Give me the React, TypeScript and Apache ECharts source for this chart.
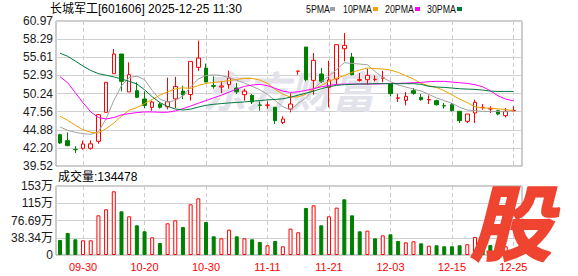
import React, { useEffect, useRef } from 'react';
import * as echarts from 'echarts';

const TITLE = '长城军工[601606] 2025-12-25 11:30';
const LAST_VOLUME = '134478';

const DATES = [
  '09-25', '09-26', '09-29', '09-30', '10-09', '10-10', '10-13', '10-14', '10-15', '10-16',
  '10-17', '10-20', '10-21', '10-22', '10-23', '10-24', '10-27', '10-28', '10-29', '10-30',
  '10-31', '11-03', '11-04', '11-05', '11-06', '11-07', '11-10', '11-11', '11-12', '11-13',
  '11-14', '11-17', '11-18', '11-19', '11-20', '11-21', '11-24', '11-25', '11-26', '11-27',
  '11-28', '12-01', '12-02', '12-03', '12-04', '12-05', '12-08', '12-09', '12-10', '12-11',
  '12-12', '12-15', '12-16', '12-17', '12-18', '12-19', '12-22', '12-23', '12-24', '12-25',
];

const OPEN = [
  44.15, 43.27, 41.97, 42.14, 42.14, 43.17, 47.46, 53.18, 56.09, 50.47,
  50.66, 49.43, 48.2, 48.67, 48.3, 49.45, 50.6, 50.1, 54.11, 54.01,
  51.42, 51.2, 51.55, 51.06, 50.07, 49.97, 48.55, 48.5, 48.2, 45.93,
  47.95, 53.54, 57.12, 52.19, 53.13, 51.16, 52.39, 56.87, 55.64, 52.19,
  52.29, 52.29, 52.5, 51.7, 49.55, 49.23, 50.66, 49.68, 49.3, 49.18,
  48.45, 48.59, 47.61, 46.13, 47.36, 48.15, 47.95, 47.7, 46.97, 47.7,
];
const CLOSE = [
  42.92, 42.53, 41.93, 42.77, 42.8, 47.11, 51.9, 56.09, 52.04, 53.03,
  49.68, 48.49, 48.99, 48.2, 49.04, 51.3, 50.05, 55.0, 55.49, 51.94,
  51.3, 51.35, 52.54, 50.5, 50.6, 48.99, 48.5, 48.55, 46.23, 46.47,
  48.69, 53.56, 52.29, 55.15, 52.04, 52.24, 57.47, 57.37, 53.03, 52.3,
  52.93, 52.34, 52.55, 50.22, 49.6, 49.82, 50.27, 49.33, 49.35, 48.59,
  48.4, 47.7, 46.23, 47.21, 48.94, 48.2, 48.0, 47.21, 47.61, 47.75,
];
const LOW = [
  42.8, 42.45, 41.45, 41.94, 41.94, 42.82, 47.46, 53.18, 50.56, 50.47,
  49.58, 48.1, 47.7, 48.0, 47.9, 48.1, 49.4, 49.2, 53.62, 51.94,
  50.96, 50.3, 50.96, 50.17, 49.18, 48.69, 47.7, 48.0, 45.73, 45.73,
  47.46, 53.03, 52.04, 50.07, 51.8, 48.2, 51.55, 55.0, 52.93, 52.0,
  51.55, 52.04, 51.9, 49.8, 48.99, 48.49, 50.07, 49.18, 48.69, 48.44,
  48.0, 47.6, 45.88, 45.88, 45.88, 47.85, 47.36, 47.02, 46.72, 47.6,
];
const HIGH = [
  44.3, 44.5, 42.45, 43.27, 43.3, 47.21, 51.9, 56.83, 56.09, 54.85,
  51.9, 50.56, 49.18, 48.94, 52.58, 52.7, 51.4, 55.0, 58.06, 54.66,
  52.78, 52.04, 53.62, 51.8, 50.96, 50.17, 49.08, 49.08, 48.2, 46.87,
  50.27, 53.56, 57.12, 56.24, 54.01, 55.1, 57.47, 59.19, 56.24, 53.27,
  53.92, 52.93, 53.6, 51.7, 50.17, 50.47, 51.06, 50.17, 49.97, 49.33,
  48.84, 48.84, 47.61, 47.21, 49.33, 48.69, 48.35, 47.85, 48.1, 48.35,
];

// volume, in 万 (10k)
const VOLUME = [
  33.4, 49.0, 34.9, 32.7, 32.7, 88.2, 101.6, 141.6, 97.1, 86.0,
  66.0, 52.7, 39.3, 26.7, 70.5, 77.1, 62.3, 112.7, 126.0, 73.4,
  41.6, 37.1, 56.4, 41.6, 37.1, 34.9, 29.0, 21.6, 31.2, 19.3,
  58.6, 50.5, 104.5, 110.4, 66.0, 86.0, 105.3, 123.8, 88.2, 52.7,
  54.1, 37.1, 43.7, 46.0, 31.2, 28.2, 30.5, 26.0, 20.8, 21.6,
  19.3, 19.3, 21.6, 24.0, 40.0, 23.8, 22.0, 22.0, 19.3, 13.45,
];

const MA5 = [
  45.29, 44.8, 44.5, 44.3, 44.2, 44.6, 46.5, 49.2, 51.4, 52.6,
  52.8, 52.3, 50.7, 49.4, 49.0, 49.2, 49.9, 51.2, 52.4, 52.9,
  53.0, 52.9, 52.6, 52.2, 51.8, 51.3, 50.8, 50.1, 49.2, 48.3,
  47.8, 48.8, 49.6, 50.9, 52.0, 52.8, 53.8, 54.8, 54.7, 54.6,
  54.5, 53.5, 52.6, 52.0, 51.5, 51.2, 50.9, 50.6, 50.1, 49.6,
  49.2, 48.8, 48.2, 47.8, 47.7, 47.6, 47.6, 47.6, 47.6, 47.7,
];
const MA10 = [
  46.88, 46.28, 45.54, 44.89, 44.5, 44.4, 45.04, 45.88, 46.88, 47.77,
  48.17, 48.76, 49.36, 50.0, 50.5, 50.94, 51.09, 50.99, 51.44, 51.74,
  51.89, 51.99, 52.14, 52.33, 52.48, 52.48, 52.23, 51.74, 50.85, 50.15,
  49.7, 49.75, 50.15, 50.89, 51.44, 52.03, 52.53, 52.88, 53.37, 53.72,
  54.02, 53.92, 53.87, 53.72, 53.37, 52.88, 52.38, 51.74, 51.39, 51.14,
  50.65, 50.05, 49.41, 48.91, 48.27, 48.12, 48.07, 47.97, 47.87, 47.72,
];
const MA20 = [
  52.73, 51.84, 50.35, 48.86, 47.52, 46.68, 46.48, 46.68, 47.08, 47.27,
  47.42, 47.52, 47.52, 47.47, 47.47, 47.67, 48.0, 48.4, 48.8, 49.2,
  49.6, 50.0, 50.45, 50.9, 51.3, 51.5, 51.6, 51.4, 51.0, 50.6,
  50.4, 50.5, 50.7, 50.95, 51.24, 51.44, 51.59, 51.64, 51.64, 51.64,
  51.64, 51.64, 51.69, 51.74, 51.74, 51.79, 51.84, 51.89, 51.99, 52.04,
  52.04, 51.94, 51.84, 51.74, 51.54, 51.24, 50.65, 49.9, 49.41, 49.16,
];
const MA30 = [
  56.2, 55.75, 55.03, 54.3, 53.65, 53.18, 52.95, 52.7, 52.4, 52.05,
  51.65, 50.8, 49.76, 48.9, 48.33, 47.96, 47.8, 47.93, 48.24, 48.5,
  48.65, 48.75, 48.85, 48.92, 49.0, 49.1, 49.2, 49.3, 49.36, 49.46,
  49.7, 50.0, 50.3, 50.6, 50.95, 51.25, 51.45, 51.55, 51.6, 51.65,
  51.65, 51.7, 51.7, 51.7, 51.7, 51.7, 51.7, 51.6, 51.3, 51.2,
  51.15, 51.05, 50.95, 50.9, 50.85, 50.75, 50.6, 50.55, 50.55, 50.55,
];

const PRICE_TICKS = ['39.52', '42.20', '44.88', '47.56', '50.24', '52.93', '55.61', '58.29', '60.97'];
const VOL_TICKS = ['0', '38.34万', '76.69万', '115万', '153万'];
const PRICE_MIN = 39.52;
const PRICE_MAX = 60.97;
const VOL_MAX = 153.37;

const MA_NAMES = ['5PMA', '10PMA', '20PMA', '30PMA'];

const RED = '#ff0000';
const GREEN = '#008000';
const MA_COLORS = ['#a0a0a0', '#f0a000', '#ff00ff', '#007a3d'];
const GRID_LINE = '#d0d0d0';
const BORDER = '#9a9a9a';

const labelEvery = (index: number) => (index - 3) % 8 === 0;

export default function App() {
  const ref = useRef<HTMLDivElement>(null);

  useEffect(() => {
    if (!ref.current) return;
    const chart = echarts.init(ref.current, undefined, { renderer: 'svg' });

    const dataLeft = 60;
    const dataWidth = 453.4;

    const candleData = OPEN.map((o, i) => [o, CLOSE[i], LOW[i], HIGH[i]]);
    const volData = VOLUME.map((v, i) => {
      const up = i === 0 ? CLOSE[0] >= OPEN[0] : CLOSE[i] >= CLOSE[i - 1];
      return {
        value: v,
        itemStyle: up
          ? { color: '#ffffff', borderColor: RED, borderWidth: 1 }
          : { color: GREEN, borderColor: GREEN, borderWidth: 1 },
      };
    });

    const maSeries = [MA5, MA10, MA20, MA30].map((arr, k) => ({
      type: 'line',
      name: MA_NAMES[k],
      xAxisIndex: 1,
      yAxisIndex: 1,
      data: arr,
      showSymbol: false,
      symbol: 'none',
      silent: true,
      z: 3,
      lineStyle: { width: 1, color: MA_COLORS[k] },
    }));

    const legendX = [306, 343, 385, 427];
    const squareX = [330, 373, 415, 457];
    const legendEls: any[] = [];
    MA_NAMES.forEach((n, k) => {
      legendEls.push({
        type: 'text',
        x: legendX[k],
        y: 9.5,
        scaleX: 0.8,
        style: {
          text: n,
          fill: '#111',
          fontSize: 11,
          fontFamily: 'Liberation Sans',
          verticalAlign: 'middle',
          align: 'left',
        },
      });
      legendEls.push({
        type: 'rect',
        shape: { x: squareX[k], y: 7, width: 5, height: 4 },
        style: { fill: MA_COLORS[k] },
      });
    });

    const option: any = {
      animation: false,
      backgroundColor: '#ffffff',
      grid: [
        { left: 56, top: 21, width: 466, height: 145, show: true, borderColor: BORDER, borderWidth: 1 },
        { left: dataLeft, top: 21, width: dataWidth, height: 145 },
        { left: 56, top: 186, width: 466, height: 69, show: true, borderColor: BORDER, borderWidth: 1 },
        { left: dataLeft, top: 186, width: dataWidth, height: 69 },
      ],
      xAxis: [
        { gridIndex: 0, type: 'value', min: 0, max: 1, show: false },
        {
          gridIndex: 1,
          type: 'category',
          data: DATES,
          boundaryGap: false,
          axisLine: { show: false },
          axisTick: { show: false },
          axisLabel: { show: false },
          splitLine: { show: true, interval: labelEvery, lineStyle: { color: '#cccccc', type: [4, 3], width: 1 } },
        },
        { gridIndex: 2, type: 'value', min: 0, max: 1, show: false },
        {
          gridIndex: 3,
          type: 'category',
          data: DATES,
          boundaryGap: false,
          axisLine: { show: false },
          axisTick: { show: false },
          axisLabel: {
            show: true,
            interval: labelEvery,
            color: RED,
            fontSize: 11,
            fontFamily: 'Liberation Sans',
            margin: 6,
          },
          splitLine: { show: true, interval: labelEvery, lineStyle: { color: '#cccccc', type: [4, 3], width: 1 } },
        },
      ],
      yAxis: [
        {
          gridIndex: 0,
          type: 'value',
          min: 0,
          max: 8,
          interval: 1,
          axisLine: { show: false },
          axisTick: { show: false },
          axisLabel: {
            formatter: (v: number) => PRICE_TICKS[Math.round(v)],
            color: '#1a1a1a',
            fontSize: 12,
            fontFamily: 'Liberation Sans',
            margin: 3,
          },
          splitLine: { show: true, lineStyle: { color: GRID_LINE, width: 1 } },
        },
        { gridIndex: 1, type: 'value', min: PRICE_MIN, max: PRICE_MAX, show: false, splitLine: { show: false } },
        {
          gridIndex: 2,
          type: 'value',
          min: 0,
          max: 4,
          interval: 1,
          axisLine: { show: false },
          axisTick: { show: false },
          axisLabel: {
            formatter: (v: number) => VOL_TICKS[Math.round(v)],
            color: '#1a1a1a',
            fontSize: 12,
            fontFamily: "'Liberation Sans', 'Noto Sans CJK SC'",
            margin: 3,
          },
          splitLine: { show: true, lineStyle: { color: GRID_LINE, width: 1 } },
        },
        { gridIndex: 3, type: 'value', min: 0, max: VOL_MAX, show: false, splitLine: { show: false } },
      ],
      series: [
        {
          type: 'candlestick',
          xAxisIndex: 1,
          yAxisIndex: 1,
          data: candleData,
          barWidth: 4,
          clip: false,
          z: 2,
          itemStyle: {
            color: '#ffffff',
            color0: GREEN,
            borderColor: RED,
            borderColor0: GREEN,
            borderWidth: 1,
          },
        },
        ...maSeries,
        {
          type: 'bar',
          xAxisIndex: 3,
          yAxisIndex: 3,
          data: volData,
          barWidth: 4,
          z: 2,
        },
      ],
      graphic: [
        {
          type: 'text',
          z: 1,
          x: 289,
          y: 89,
          style: {
            text: '东方财富',
            fill: '#e2e2ea',
            fontSize: 43,
            fontWeight: 'bold',
            fontStyle: 'italic',
            fontFamily: 'Noto Sans CJK SC',
            align: 'center',
            verticalAlign: 'middle',
          },
        },
        {
          type: 'text',
          x: 50,
          y: 9,
          style: {
            text: TITLE,
            fill: '#000',
            fontSize: 12,
            fontFamily: "'Liberation Sans', 'Noto Sans CJK SC'",
            verticalAlign: 'middle',
            align: 'left',
          },
        },
        ...legendEls,
        {
          type: 'text',
          x: 58,
          y: 177,
          style: {
            text: '成交量:' + LAST_VOLUME,
            fill: '#000',
            fontSize: 12,
            fontFamily: "'Liberation Sans', 'Noto Sans CJK SC'",
            verticalAlign: 'middle',
            align: 'left',
          },
        },
        {
          type: 'text',
          z: 100,
          x: 511,
          y: 218,
          style: {
            text: '股',
            fill: '#ee4430',
            stroke: '#ee4430',
            lineWidth: 2,
            fontSize: 82,
            fontWeight: 'bold',
            fontStyle: 'italic',
            fontFamily: 'Noto Sans CJK SC',
            align: 'center',
            verticalAlign: 'middle',
          },
        },
      ],
    };

    chart.setOption(option);
    return () => chart.dispose();
  }, []);

  return (
    <div
      ref={ref}
      style={{ position: 'fixed', left: 0, top: 0, width: 578, height: 276, background: '#fff' }}
    />
  );
}
